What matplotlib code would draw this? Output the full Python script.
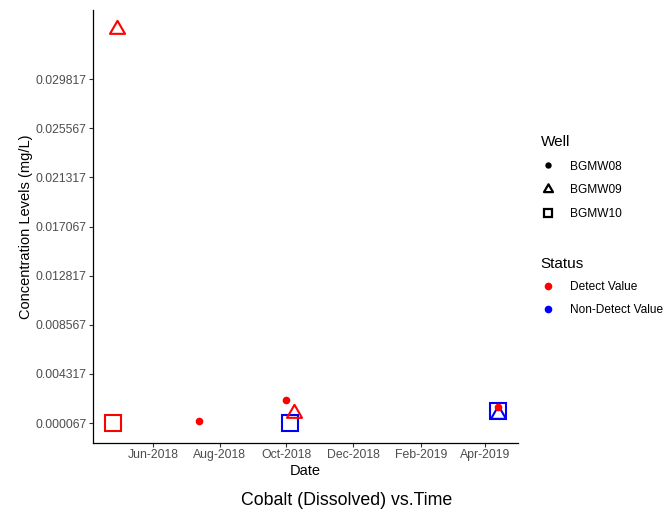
""" import libraries """
import matplotlib
matplotlib.use("Agg")
import matplotlib.pyplot as plt
import matplotlib.dates as mdates
import numpy as np
import pandas as pd
from matplotlib.lines import Line2D
from matplotlib.path import Path

plt.rcParams["font.family"] = ["Liberation Sans", "DejaVu Sans"]

# data
dates = ["2018-04-25", "2018-04-29", "2018-07-13", "2018-10-01", "2018-10-04",
         "2018-10-08", "2019-04-13", "2019-04-13", "2019-04-13"]
values = [0.00004, 0.03415, 0.00024, 0.00206, 0.00011,
          0.00094, 0.00115, 0.00081, 0.00147]
wells = ["BGMW10", "BGMW09", "BGMW08", "BGMW08", "BGMW10",
         "BGMW09", "BGMW10", "BGMW09", "BGMW08"]
status = ["Detect Value", "Detect Value", "Detect Value", "Detect Value", "Non-Detect Value",
          "Detect Value", "Non-Detect Value", "Non-Detect Value", "Detect Value"]

y_ticks = [0.000067, 0.004317, 0.008567, 0.012817, 0.017067, 0.021317, 0.025567, 0.029817]
x_ticks = ["2018-06-01", "2018-08-01", "2018-10-01", "2018-12-01", "2019-02-01", "2019-04-01"]

well_order = ["BGMW08", "BGMW09", "BGMW10"]
status_order = ["Detect Value", "Non-Detect Value"]
status_colors = {"Detect Value": "#FF0000", "Non-Detect Value": "#0000FF"}

# R style triangle (centred on centroid)
triangle = Path([(0, 1.555), (1.347, -0.778), (-1.347, -0.778), (0, 1.555)],
                [Path.MOVETO, Path.LINETO, Path.LINETO, Path.CLOSEPOLY])
well_markers = {"BGMW08": "o", "BGMW09": triangle, "BGMW10": "s"}
well_sizes = {"BGMW08": 5.5, "BGMW09": 12.5, "BGMW10": 11.2}
legend_sizes = {"BGMW08": 4.6, "BGMW09": 7.5, "BGMW10": 5.6}

df = pd.DataFrame({"Date": pd.to_datetime(dates), "Value": values,
                   "Well": wells, "Status": status})

fig = plt.figure(figsize=(6.67, 5.18), dpi=100)
ax = fig.add_axes([0.1394, 0.1448, 0.6372, 0.8359])

for _, row in df.iterrows():
    col = status_colors[row["Status"]]
    filled = row["Well"] == "BGMW08"
    ax.plot(row["Date"], row["Value"], linestyle="none",
            marker=well_markers[row["Well"]], markersize=well_sizes[row["Well"]],
            markerfacecolor=col if filled else "none", markeredgecolor=col,
            markeredgewidth=0 if filled else 1.5)

ax.set_xlim(pd.Timestamp("2018-04-07"), pd.Timestamp("2019-05-01"))
ax.set_ylim(-0.00166, 0.0358)
ax.set_yticks(y_ticks)
ax.set_yticklabels([f"{t:.6f}" for t in y_ticks])
ax.set_xticks(pd.to_datetime(x_ticks))
ax.xaxis.set_major_formatter(mdates.DateFormatter("%b-%Y"))

for side in ["top", "right"]:
    ax.spines[side].set_visible(False)
for side in ["left", "bottom"]:
    ax.spines[side].set_linewidth(0.9)
ax.tick_params(axis="both", labelsize=8.8, labelcolor="#4D4D4D", color="#333333",
               length=3, width=0.8, pad=1.5)

ax.set_xlabel("Date", fontsize=10.5, labelpad=2)
ax.set_ylabel("Concentration Levels (mg/L)", fontsize=10.5, labelpad=1.5)
fig.text(0.519, 0.034, "Cobalt (Dissolved) vs.Time", fontsize=12.8, ha="center", va="center")

# legends
well_handles = [Line2D([], [], linestyle="none", marker=well_markers[w],
                       markersize=legend_sizes[w],
                       markerfacecolor="black" if w == "BGMW08" else "none",
                       markeredgecolor="black", markeredgewidth=0 if w == "BGMW08" else 1.6)
                for w in well_order]
status_handles = [Line2D([], [], linestyle="none", marker="o", markersize=5.5,
                         markerfacecolor=status_colors[s], markeredgewidth=0)
                  for s in status_order]

leg1 = fig.legend(well_handles, well_order, title="Well", loc="upper left",
                  bbox_to_anchor=(0.8035, 0.749), frameon=False, fontsize=8.6,
                  title_fontsize=11, alignment="left", handlelength=1.17,
                  handletextpad=1.25, labelspacing=0.98, borderaxespad=0)
leg2 = fig.legend(status_handles, status_order, title="Status", loc="upper left",
                  bbox_to_anchor=(0.8035, 0.514), frameon=False, fontsize=8.6,
                  title_fontsize=11, alignment="left", handlelength=1.17,
                  handletextpad=1.25, labelspacing=0.9, borderaxespad=0)

fig.savefig("out.png", dpi=100)
